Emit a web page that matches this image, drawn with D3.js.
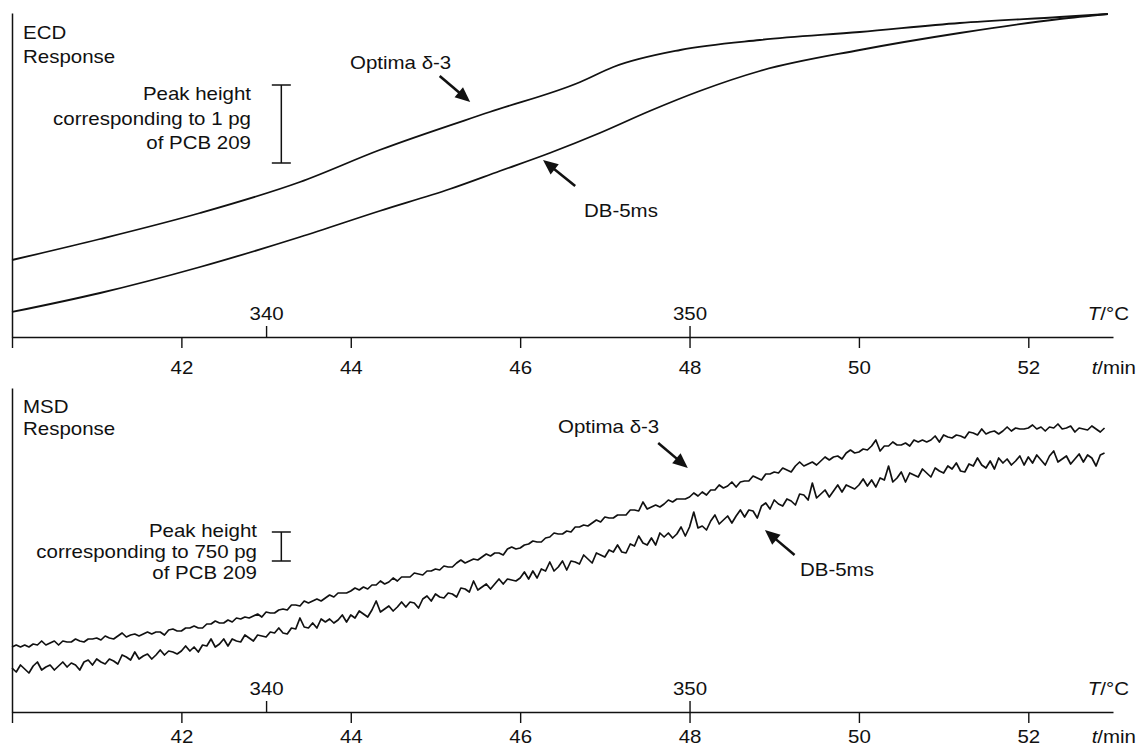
<!DOCTYPE html>
<html><head><meta charset="utf-8">
<script src="https://cdn.jsdelivr.net/npm/d3@7"></script>
<style>
body{margin:0;background:#fff}
svg text{font-family:"Liberation Sans",Arial,Helvetica,sans-serif;fill:#111;font-size:17.5px}
</style>
</head><body><svg id="c" width="1137" height="747"></svg>
<script>
// ---------- data ----------
const timeTicks = [40, 42, 44, 46, 48, 50, 52];
const tempTicks = [340, 350];

// ECD panel (response, arbitrary units)
const ecdOptimaT = [40.00, 41.04, 42.22, 43.40, 44.34, 45.64, 46.71, 47.10, 47.89, 48.83, 50.01, 51.19, 52.37, 52.94];
const ecdOptimaV = [77, 98, 124, 155, 187, 225, 255, 270, 287, 297, 305, 314, 320, 323];
const ecdDbT = [40.00, 41.04, 42.22, 43.40, 44.34, 45.17, 45.76, 46.35, 46.94, 47.53, 48.12, 48.83, 50.01, 51.19, 52.37, 52.94];
const ecdDbV = [25, 44, 70, 100, 126, 148, 166, 184, 204, 226, 246, 266, 287, 304, 318, 323];

// MSD panel: sampled every 0.05 min from 40.00 min
const msdStartT = 40.0, msdStepT = 0.05;
const msdOptimaV = [
65,67,65,67,65,68,67,71,67,69,71,67,71,70,70,73,71,70,73,73,
74,72,76,74,73,76,79,75,77,78,76,78,80,78,80,80,77,82,83,81,
81,84,84,86,84,84,88,88,91,89,89,92,90,94,93,95,94,96,98,95,
100,99,99,102,103,102,107,107,106,111,109,111,113,111,114,117,115,119,119,119,
121,124,122,125,123,127,127,131,128,130,134,131,135,135,135,139,138,137,141,141,
143,142,146,145,145,149,152,149,151,153,152,155,158,156,159,159,157,163,165,163,
164,167,168,171,170,170,174,175,179,178,178,181,180,185,185,187,186,189,192,190,
195,194,194,197,197,197,202,202,201,210,203,205,207,205,208,212,210,213,213,213,
215,219,216,220,217,222,222,227,224,226,230,225,230,231,231,236,234,232,238,238,
240,239,244,242,240,246,250,246,248,250,247,251,255,252,255,256,253,259,262,259,
260,263,262,266,272,261,266,266,270,267,267,269,266,272,270,272,270,272,276,270,
277,275,274,277,276,274,280,279,277,283,278,280,281,278,281,285,281,284,283,283,
284,287,283,285,281,285,284,288,283,284,286,280,284,283,282,286,283,280,284];
const msdDbV = [
44,40,47,43,39,46,50,42,45,47,42,46,50,45,49,47,42,50,52,47,
53,50,48,53,51,48,57,55,52,60,53,56,58,53,57,62,57,61,60,58,
61,66,61,65,60,67,66,73,65,68,73,66,73,71,70,77,74,71,77,76,
75,80,79,84,79,78,84,83,94,85,84,89,84,93,90,93,89,92,97,90,
97,94,101,98,95,102,111,100,103,106,101,105,110,105,110,109,104,113,116,111,
118,115,114,119,118,115,124,123,120,131,122,125,128,123,128,133,128,133,132,131,
134,140,133,141,134,143,141,150,141,145,151,142,151,150,148,157,153,149,159,157,
155,162,160,167,160,159,168,166,176,169,167,174,167,179,175,179,174,178,185,176,
185,200,184,186,182,191,197,188,192,196,189,196,202,195,202,201,194,206,209,203,
212,208,206,213,211,207,218,217,212,229,214,218,222,215,221,227,220,227,225,223,
227,233,226,232,225,234,232,246,230,234,240,230,239,237,235,243,239,235,244,241,
239,246,243,249,241,240,248,246,254,247,244,251,243,254,249,253,247,251,256,247,
255,249,257,252,247,256,261,250,253,256,248,253,258,250,257,254,246,257,259];

// peak-height reference bars (response units)
const ecdScaleBar = 78;
const msdScaleBar = 29;

// ---------- drawing ----------
const svg = d3.select("#c");
const STRETCH = 1.17;
const x = d3.scaleLinear().domain([40, 53]).range([12, 1113]);
const T = d3.scaleLinear().domain([334, 360]).range([12, 1113]);
const y = d3.scaleLinear().domain([0, 324]).range([337, 13]);

function label(g, px, py, parts, anchor) {
  const t = g.append("text")
    .attr("transform", `translate(${px},${py}) scale(${STRETCH},1)`)
    .attr("text-anchor", anchor || "start");
  parts.forEach(p => {
    const s = t.append("tspan").text(p[0]);
    if (p[1]) s.style("font-style", "italic");
  });
  return t;
}

function arrow(g, tail, tip) {
  const x1 = x(tail[0]), y1 = y(tail[1]), x2 = x(tip[0]), y2 = y(tip[1]);
  const dx = x2 - x1, dy = y2 - y1, L = Math.hypot(dx, dy), ux = dx / L, uy = dy / L;
  const hl = 15, hw = 6.5;
  const bx = x2 - ux * hl, by = y2 - uy * hl;
  g.append("line").attr("x1", x1).attr("y1", y1).attr("x2", bx + ux * 2).attr("y2", by + uy * 2)
    .attr("stroke", "#111").attr("stroke-width", 2.6);
  g.append("path")
    .attr("d", `M${x2},${y2}L${bx - uy * hw},${by + ux * hw}L${bx + uy * hw},${by - ux * hw}Z`)
    .attr("fill", "#111");
}

function scaleBar(g, t, topV, size) {
  const xp = x(t), y1 = y(topV), y2 = y(topV - size);
  const add = (a, b, c, d) => g.append("line").attr("x1", a).attr("y1", b).attr("x2", c).attr("y2", d)
    .attr("stroke", "#111").attr("stroke-width", 1.5);
  add(xp, y1, xp, y2);
  add(xp - 9.5, y1, xp + 9.5, y1);
  add(xp - 9.5, y2, xp + 9.5, y2);
}

function axes(g, labelGap) {
  const ya = g.append("g").attr("transform", `translate(${x(40)},0)`)
    .call(d3.axisLeft(y).tickValues([]).tickSizeOuter(0));
  ya.select(".domain").attr("stroke", "#111").attr("stroke-width", 1.5);

  const xa = g.append("g").attr("transform", `translate(0,${y(0)})`)
    .call(d3.axisBottom(x).tickValues(timeTicks).tickSize(11).tickSizeOuter(0)
      .tickFormat(d => d === 40 ? "" : d));
  xa.attr("font-size", null).attr("font-family", null);
  xa.select(".domain").attr("stroke", "#111").attr("stroke-width", 1.6);
  xa.selectAll(".tick line").attr("stroke", "#111").attr("stroke-width", 1.4);
  xa.selectAll(".tick text").attr("y", null).attr("dy", null)
    .attr("transform", `translate(0,${labelGap}) scale(${STRETCH},1)`);

  const ta = g.append("g").attr("transform", `translate(0,${y(0)})`)
    .call(d3.axisTop(T).tickValues(tempTicks).tickSize(11).tickSizeOuter(0));
  ta.attr("font-size", null).attr("font-family", null);
  ta.select(".domain").remove();
  ta.selectAll(".tick line").attr("stroke", "#111").attr("stroke-width", 1.4);
  ta.selectAll(".tick text").attr("y", null).attr("dy", null)
    .attr("transform", `translate(0,-17) scale(${STRETCH},1)`);

  label(g, 1129, y(0) - 17, [["T", true], ["/°C", false]], "end");
  label(g, 1136, y(0) + labelGap, [["t", true], ["/min", false]], "end");
}

// ---- ECD panel ----
const ecdG = svg.append("g");
axes(ecdG, 37);
const smooth = d3.line().x(d => x(d[0])).y(d => y(d[1])).curve(d3.curveMonotoneX);
ecdG.append("path").datum(d3.zip(ecdOptimaT, ecdOptimaV)).attr("d", smooth)
  .attr("fill", "none").attr("stroke", "#111").attr("stroke-width", 1.8);
ecdG.append("path").datum(d3.zip(ecdDbT, ecdDbV)).attr("d", smooth)
  .attr("fill", "none").attr("stroke", "#111").attr("stroke-width", 1.8);

label(ecdG, 23, 39, [["ECD"]]);
label(ecdG, 23, 63, [["Response"]]);
label(ecdG, 251, 100, [["Peak height"]], "end");
label(ecdG, 251, 124.5, [["corresponding to 1 pg"]], "end");
label(ecdG, 251, 149, [["of PCB 209"]], "end");
scaleBar(ecdG, 43.18, 252, ecdScaleBar);
label(ecdG, 350, 69, [["Optima δ-3"]]);
arrow(ecdG, [45.05, 261], [45.41, 235]);
label(ecdG, 584, 217, [["DB-5ms"]]);
arrow(ecdG, [46.65, 151], [46.27, 177]);

// ---- MSD panel ----
const msdG = svg.append("g").attr("transform", "translate(0,375)");
axes(msdG, 31);
const raw = d3.line().x(d => x(d[0])).y(d => y(d[1]));
const msdT = msdOptimaV.map((_, i) => msdStartT + i * msdStepT);
msdG.append("path").datum(d3.zip(msdT, msdOptimaV)).attr("d", raw)
  .attr("fill", "none").attr("stroke", "#111").attr("stroke-width", 1.7).attr("stroke-linejoin", "round");
msdG.append("path").datum(d3.zip(msdT, msdDbV)).attr("d", raw)
  .attr("fill", "none").attr("stroke", "#111").attr("stroke-width", 1.7).attr("stroke-linejoin", "round");

label(msdG, 23, 38, [["MSD"]]);
label(msdG, 23, 60, [["Response"]]);
label(msdG, 257, 162, [["Peak height"]], "end");
label(msdG, 257, 183, [["corresponding to 750 pg"]], "end");
label(msdG, 257, 204, [["of PCB 209"]], "end");
scaleBar(msdG, 43.18, 180, msdScaleBar);
label(msdG, 558, 58, [["Optima δ-3"]]);
arrow(msdG, [47.63, 269], [47.98, 244]);
label(msdG, 800, 201, [["DB-5ms"]]);
arrow(msdG, [49.24, 157], [48.89, 182]);
</script>
</body></html>
